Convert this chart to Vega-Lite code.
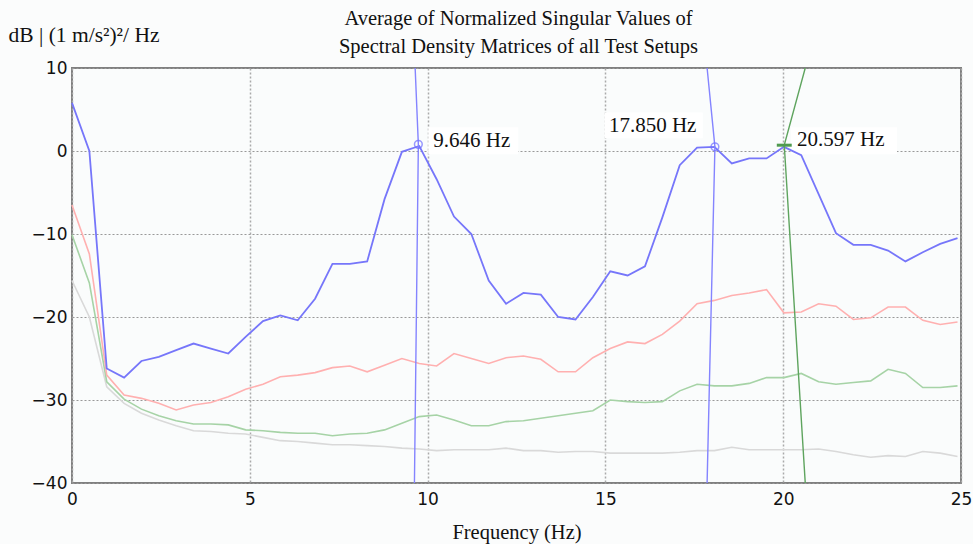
{
  "$schema": "https://vega.github.io/schema/vega-lite/v6.json",
  "width": 889,
  "height": 415,
  "autosize": {"type": "none"},
  "padding": {"left": 72, "top": 68, "right": 12, "bottom": 61},
  "background": "#fbfcfc",
  "title": {
    "text": ["Average of Normalized Singular Values of", "Spectral Density Matrices of all Test Setups"],
    "font": "Liberation Serif", "fontSize": 20.5, "fontWeight": "normal", "color": "#111111",
    "anchor": "middle", "lineHeight": 28, "offset": -33, "dx": 2
  },
  "config": {
    "view": {"stroke": "#808080", "strokeWidth": 2, "fill": "#fafcfc"},
    "axis": {"domain": false, "ticks": false, "labelFont": "DejaVu Sans", "labelFontSize": 17, "labelColor": "#111111", "titleFont": "Liberation Serif", "titleFontSize": 20.5, "titleFontWeight": "normal", "titleColor": "#111111"}
  },
  "datasets": {
    "sv": [
      {"f": 0.000, "blue": 5.8, "red": -6.5, "green": -10.1, "gray": -15.6},
      {"f": 0.488, "blue": 0.0, "red": -12.4, "green": -15.9, "gray": -20.0},
      {"f": 0.977, "blue": -26.2, "red": -27.0, "green": -27.8, "gray": -28.4},
      {"f": 1.465, "blue": -27.3, "red": -29.4, "green": -29.9, "gray": -30.4},
      {"f": 1.953, "blue": -25.3, "red": -29.8, "green": -31.1, "gray": -31.6},
      {"f": 2.441, "blue": -24.8, "red": -30.4, "green": -31.9, "gray": -32.4},
      {"f": 2.930, "blue": -24.0, "red": -31.2, "green": -32.5, "gray": -33.1},
      {"f": 3.418, "blue": -23.2, "red": -30.6, "green": -32.9, "gray": -33.7},
      {"f": 3.906, "blue": -23.8, "red": -30.3, "green": -32.9, "gray": -33.8},
      {"f": 4.395, "blue": -24.4, "red": -29.6, "green": -33.0, "gray": -34.0},
      {"f": 4.883, "blue": -22.4, "red": -28.7, "green": -33.6, "gray": -34.1},
      {"f": 5.371, "blue": -20.5, "red": -28.1, "green": -33.7, "gray": -34.5},
      {"f": 5.859, "blue": -19.8, "red": -27.2, "green": -33.9, "gray": -34.9},
      {"f": 6.348, "blue": -20.4, "red": -27.0, "green": -34.0, "gray": -35.0},
      {"f": 6.836, "blue": -17.8, "red": -26.7, "green": -34.0, "gray": -35.2},
      {"f": 7.324, "blue": -13.6, "red": -26.1, "green": -34.3, "gray": -35.4},
      {"f": 7.813, "blue": -13.6, "red": -25.9, "green": -34.1, "gray": -35.4},
      {"f": 8.301, "blue": -13.3, "red": -26.6, "green": -34.0, "gray": -35.5},
      {"f": 8.789, "blue": -5.8, "red": -25.8, "green": -33.6, "gray": -35.6},
      {"f": 9.277, "blue": -0.1, "red": -25.0, "green": -32.8, "gray": -35.8},
      {"f": 9.766, "blue": 0.6, "red": -25.6, "green": -32.0, "gray": -35.9},
      {"f": 10.254, "blue": -3.4, "red": -25.9, "green": -31.8, "gray": -36.1},
      {"f": 10.742, "blue": -7.9, "red": -24.4, "green": -32.4, "gray": -36.0},
      {"f": 11.230, "blue": -10.0, "red": -25.0, "green": -33.1, "gray": -36.0},
      {"f": 11.719, "blue": -15.6, "red": -25.6, "green": -33.1, "gray": -36.0},
      {"f": 12.207, "blue": -18.4, "red": -24.9, "green": -32.6, "gray": -35.8},
      {"f": 12.695, "blue": -17.1, "red": -24.7, "green": -32.5, "gray": -36.1},
      {"f": 13.184, "blue": -17.3, "red": -25.1, "green": -32.2, "gray": -36.1},
      {"f": 13.672, "blue": -20.0, "red": -26.6, "green": -31.9, "gray": -36.3},
      {"f": 14.160, "blue": -20.3, "red": -26.6, "green": -31.6, "gray": -36.2},
      {"f": 14.648, "blue": -17.6, "red": -24.9, "green": -31.3, "gray": -36.2},
      {"f": 15.137, "blue": -14.5, "red": -23.8, "green": -30.0, "gray": -36.4},
      {"f": 15.625, "blue": -15.0, "red": -23.0, "green": -30.2, "gray": -36.4},
      {"f": 16.113, "blue": -13.9, "red": -23.2, "green": -30.3, "gray": -36.4},
      {"f": 16.602, "blue": -8.0, "red": -22.1, "green": -30.2, "gray": -36.4},
      {"f": 17.090, "blue": -1.7, "red": -20.5, "green": -28.9, "gray": -36.3},
      {"f": 17.578, "blue": 0.4, "red": -18.4, "green": -28.1, "gray": -36.1},
      {"f": 18.066, "blue": 0.5, "red": -18.0, "green": -28.3, "gray": -36.1},
      {"f": 18.555, "blue": -1.5, "red": -17.4, "green": -28.3, "gray": -35.7},
      {"f": 19.043, "blue": -0.9, "red": -17.1, "green": -28.0, "gray": -36.0},
      {"f": 19.531, "blue": -0.9, "red": -16.7, "green": -27.3, "gray": -36.0},
      {"f": 20.020, "blue": 0.5, "red": -19.5, "green": -27.3, "gray": -36.0},
      {"f": 20.508, "blue": -0.5, "red": -19.4, "green": -26.8, "gray": -36.0},
      {"f": 20.996, "blue": -5.2, "red": -18.4, "green": -27.8, "gray": -35.9},
      {"f": 21.484, "blue": -9.9, "red": -18.7, "green": -28.1, "gray": -36.2},
      {"f": 21.973, "blue": -11.3, "red": -20.3, "green": -27.9, "gray": -36.6},
      {"f": 22.461, "blue": -11.3, "red": -20.1, "green": -27.7, "gray": -36.9},
      {"f": 22.949, "blue": -12.0, "red": -18.8, "green": -26.3, "gray": -36.7},
      {"f": 23.438, "blue": -13.3, "red": -18.8, "green": -26.8, "gray": -36.8},
      {"f": 23.926, "blue": -12.2, "red": -20.4, "green": -28.5, "gray": -36.2},
      {"f": 24.414, "blue": -11.2, "red": -20.9, "green": -28.5, "gray": -36.4},
      {"f": 24.902, "blue": -10.5, "red": -20.6, "green": -28.3, "gray": -36.8}
    ],
    "markers": [
      {"id": "m1", "ord": 1, "f": 9.65, "db": 10},
      {"id": "m1", "ord": 2, "f": 9.74, "db": 0.8},
      {"id": "m1", "ord": 3, "f": 9.63, "db": -40},
      {"id": "m2", "ord": 1, "f": 17.86, "db": 10},
      {"id": "m2", "ord": 2, "f": 18.08, "db": 0.5},
      {"id": "m2", "ord": 3, "f": 17.86, "db": -40},
      {"id": "m3", "ord": 1, "f": 20.62, "db": 10},
      {"id": "m3", "ord": 2, "f": 20.03, "db": 0.7},
      {"id": "m3", "ord": 3, "f": 20.62, "db": -40}
    ],
    "peaks": [
      {"f": 9.74, "db": 0.8},
      {"f": 18.08, "db": 0.5}
    ],
    "gtick": [{"f1": 19.82, "f2": 20.24, "db": 0.7}],
    "boxes": [
      {"x1": 10.02, "x2": 12.55, "y1": -0.4, "y2": 2.85},
      {"x1": 14.98, "x2": 17.74, "y1": 1.55, "y2": 4.65},
      {"x1": 20.22, "x2": 23.2, "y1": -0.4, "y2": 2.85}
    ],
    "labels": [
      {"f": 10.16, "db": 1.2, "t": "9.646 Hz"},
      {"f": 15.1, "db": 3.0, "t": "17.850 Hz"},
      {"f": 20.39, "db": 1.3, "t": "20.597 Hz"}
    ]
  },
  "layer": [
    {
      "data": {"name": "boxes"},
      "mark": {"type": "rect", "fill": "#ffffff"},
      "encoding": {
        "x": {"field": "x1", "type": "quantitative", "scale": {"domain": [0, 25], "nice": false, "zero": false},
              "axis": {"values": [0, 5, 10, 15, 20, 25], "title": "Frequency (Hz)", "labelPadding": 8, "titlePadding": 15, "labelFlush": false,
                       "grid": true, "gridColor": "#aaaaaa", "gridWidth": 1.5, "gridDash": [2, 2]}},
        "x2": {"field": "x2"},
        "y": {"field": "y1", "type": "quantitative", "scale": {"domain": [-40, 10], "nice": false, "zero": false},
              "axis": {"values": [-40, -30, -20, -10, 0, 10], "labelPadding": 5, "labelFlush": false, "grid": true, "gridColor": "#999999", "gridWidth": 1, "gridDash": [2, 2],
                       "title": "dB | (1 m/s²)²/ Hz", "titleAngle": 0, "titleAlign": "left", "titleBaseline": "middle", "titleX": -64, "titleY": -33, "titleFontSize": 21.5}},
        "y2": {"field": "y2"}
      }
    },
    {
      "data": {"name": "sv"},
      "mark": {"type": "line", "color": "#d9d9d9", "strokeWidth": 1.6},
      "encoding": {"x": {"field": "f", "type": "quantitative"}, "y": {"field": "gray", "type": "quantitative"}}
    },
    {
      "data": {"name": "sv"},
      "mark": {"type": "line", "color": "#a6d3a6", "strokeWidth": 1.6},
      "encoding": {"x": {"field": "f", "type": "quantitative"}, "y": {"field": "green", "type": "quantitative"}}
    },
    {
      "data": {"name": "sv"},
      "mark": {"type": "line", "color": "#ffb0b0", "strokeWidth": 1.6},
      "encoding": {"x": {"field": "f", "type": "quantitative"}, "y": {"field": "red", "type": "quantitative"}}
    },
    {
      "data": {"name": "sv"},
      "mark": {"type": "line", "color": "#7676fa", "strokeWidth": 1.8},
      "encoding": {"x": {"field": "f", "type": "quantitative"}, "y": {"field": "blue", "type": "quantitative"}}
    },
    {
      "data": {"name": "markers"},
      "transform": [{"filter": "datum.id !== 'm3'"}],
      "mark": {"type": "line", "color": "#8484ff", "strokeWidth": 1.4, "clip": true},
      "encoding": {"x": {"field": "f", "type": "quantitative"}, "y": {"field": "db", "type": "quantitative"}, "detail": {"field": "id"}, "order": {"field": "ord"}}
    },
    {
      "data": {"name": "markers"},
      "transform": [{"filter": "datum.id === 'm3'"}],
      "mark": {"type": "line", "color": "#5ea45e", "strokeWidth": 1.4, "clip": true},
      "encoding": {"x": {"field": "f", "type": "quantitative"}, "y": {"field": "db", "type": "quantitative"}, "order": {"field": "ord"}}
    },
    {
      "data": {"name": "peaks"},
      "mark": {"type": "point", "shape": "circle", "size": 60, "filled": false, "color": "#7070ff", "strokeWidth": 1.5},
      "encoding": {"x": {"field": "f", "type": "quantitative"}, "y": {"field": "db", "type": "quantitative"}}
    },
    {
      "data": {"name": "gtick"},
      "mark": {"type": "rule", "color": "#4f9a4f", "strokeWidth": 3},
      "encoding": {"x": {"field": "f1", "type": "quantitative"}, "x2": {"field": "f2"}, "y": {"field": "db", "type": "quantitative"}}
    },
    {
      "data": {"name": "labels"},
      "mark": {"type": "text", "align": "left", "baseline": "middle", "font": "Liberation Serif", "fontSize": 21, "color": "#111111"},
      "encoding": {"x": {"field": "f", "type": "quantitative"}, "y": {"field": "db", "type": "quantitative"}, "text": {"field": "t"}}
    }
  ]
}
